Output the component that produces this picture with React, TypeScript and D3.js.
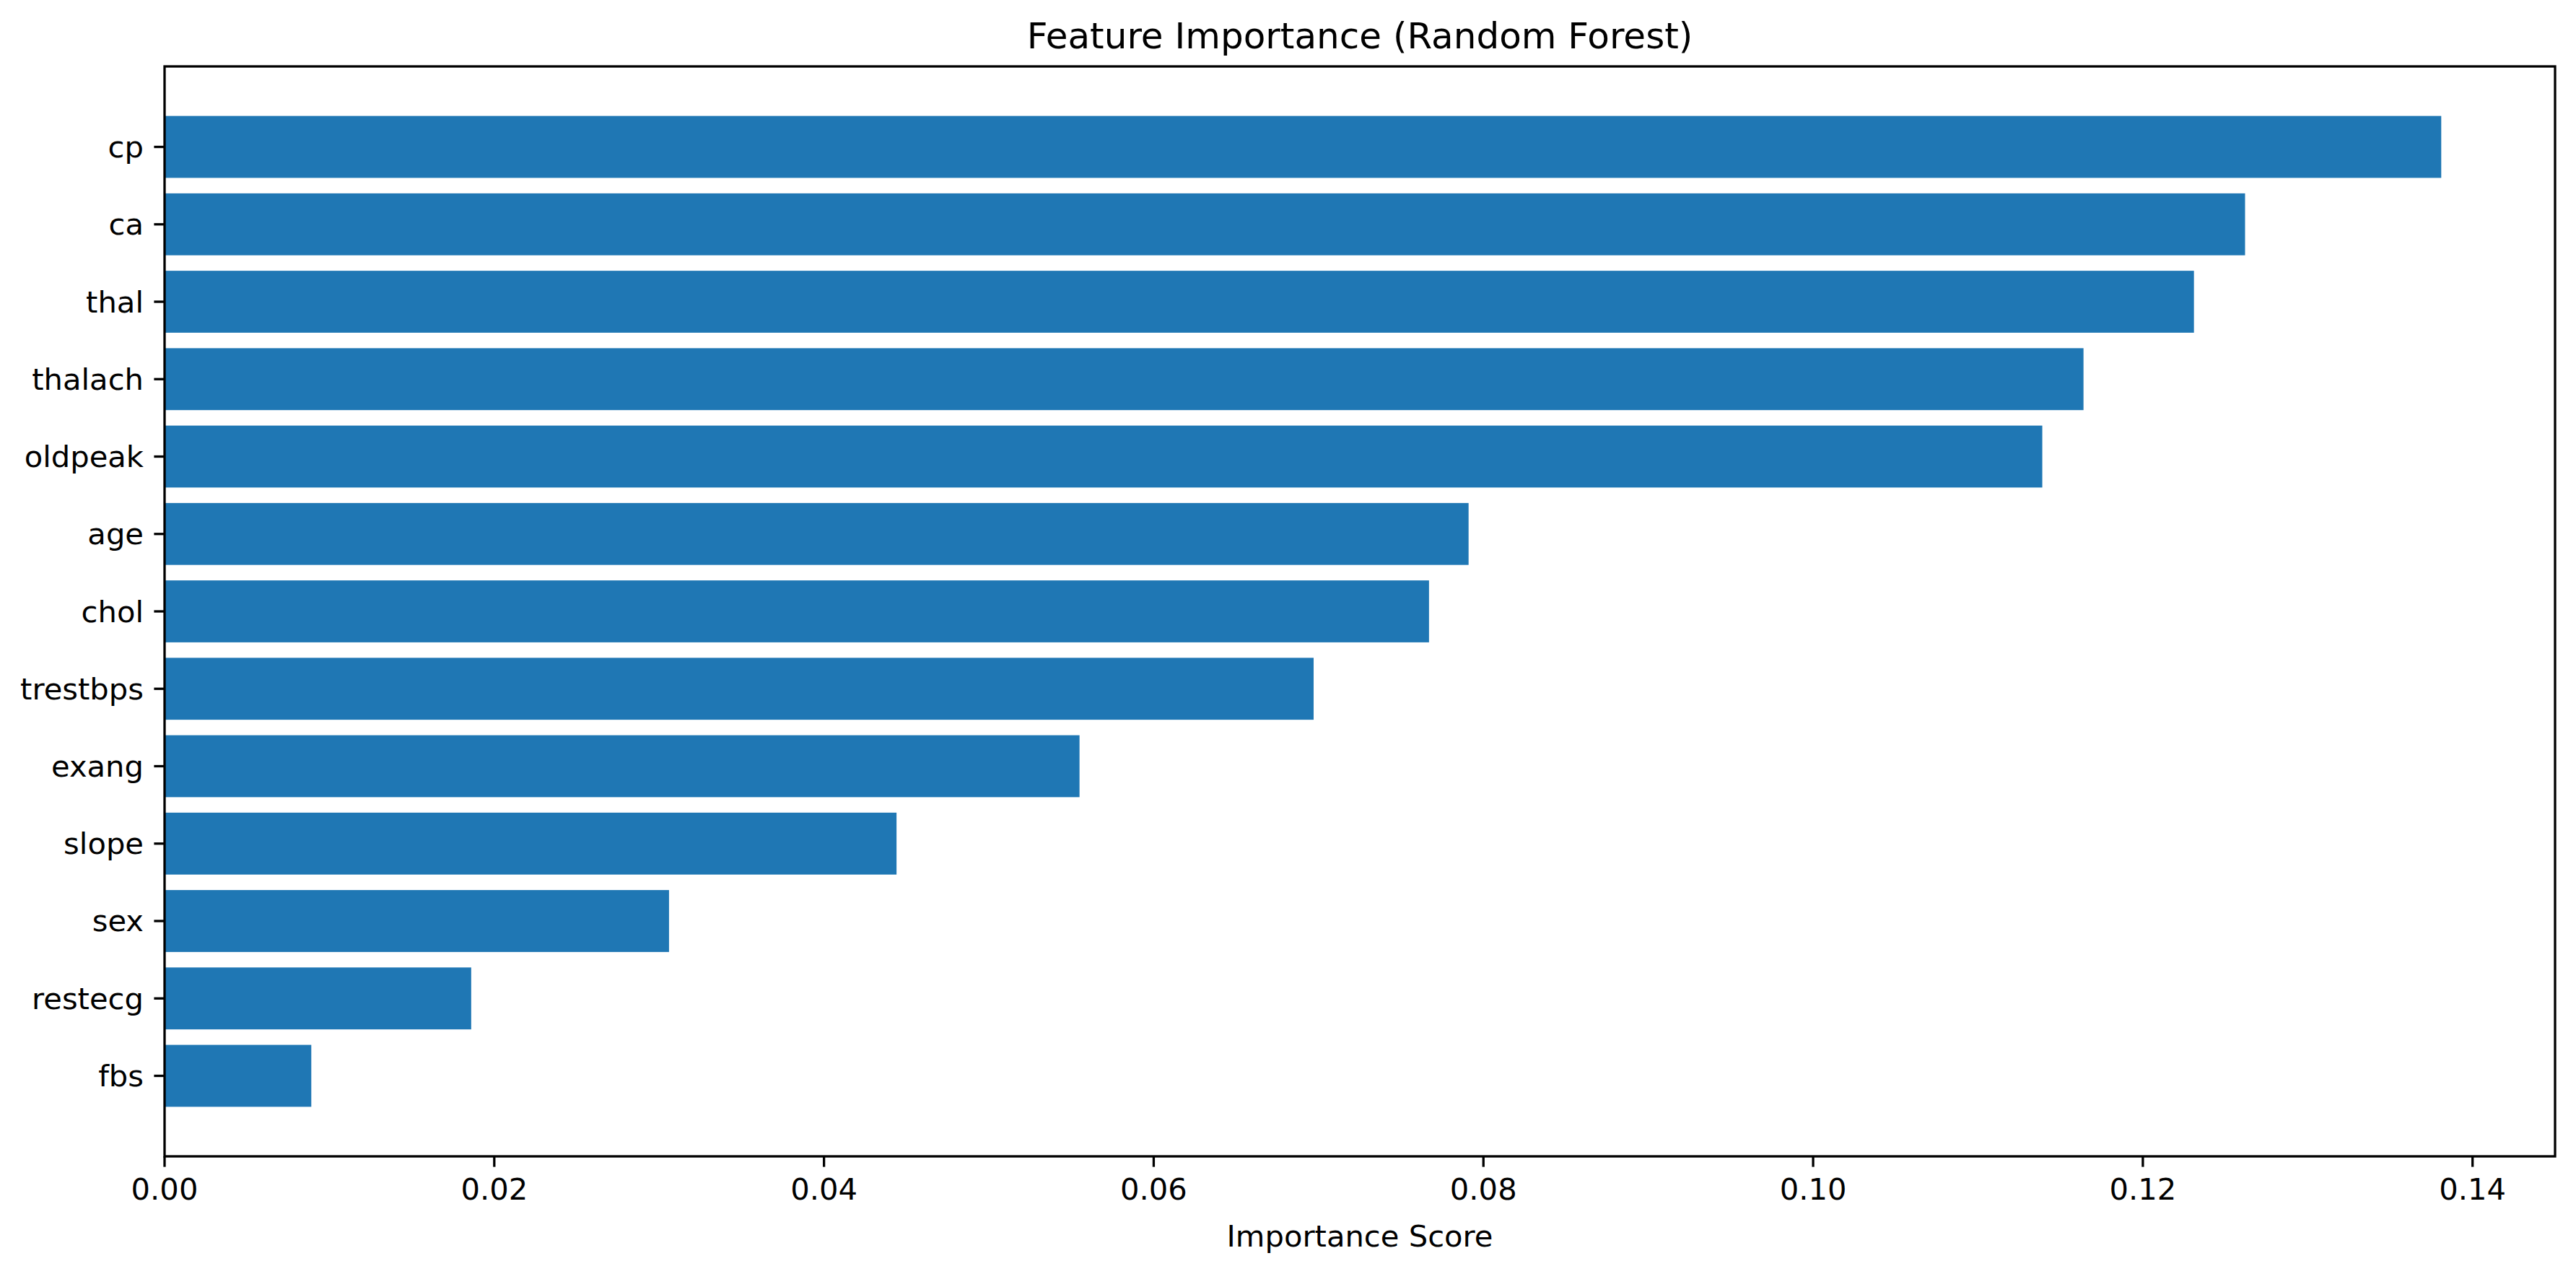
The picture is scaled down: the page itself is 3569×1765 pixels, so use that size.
import React from "react";
import * as d3 from "d3";

const features = ["cp","ca","thal","thalach","oldpeak","age","chol","trestbps","exang","slope","sex","restecg","fbs"];
const importance = [0.1381,0.1262,0.1231,0.1164,0.1139,0.0791,0.0767,0.0697,0.0555,0.0444,0.0306,0.0186,0.0089];
const xTicks = [0,0.02,0.04,0.06,0.08,0.1,0.12,0.14];

const W = 3569, H = 1765;
const L = 228, R = 3540, T = 92, B = 1602;
const FS = 41.7;

export default function App() {
  const x = d3.scaleLinear().domain([0, 0.1381 * 1.05]).range([L, R]);
  const n = features.length;
  // index 0 at top; matplotlib y from -0.4-0.64 to n-1+0.4+0.64
  const y = d3.scaleLinear().domain([-1.04, n - 1 + 1.04]).range([T, B]);
  const bh = Math.abs(y(0.8) - y(0));
  return (
    <svg width={W} height={H} style={{ display: "block", position: "absolute", left: 0, top: 0 }} fontFamily="DejaVu Sans">
      <rect width={W} height={H} fill="white" />
      {features.map((f, i) => (
        <rect key={f} x={x(0)} y={y(i) - bh / 2} width={x(importance[i]) - x(0)} height={bh} fill="#1f77b4" />
      ))}
      <rect x={L} y={T} width={R - L} height={B - T} fill="none" stroke="black" strokeWidth={3.3} />
      {xTicks.map(t => (
        <g key={t}>
          <line x1={x(t)} x2={x(t)} y1={B} y2={B + 14.6} stroke="black" strokeWidth={3.3} />
          <text x={x(t)} y={B + 29} fontSize={FS} textAnchor="middle" dominantBaseline="hanging">{t.toFixed(2)}</text>
        </g>
      ))}
      {features.map((f, i) => (
        <g key={f}>
          <line x1={L - 14.6} x2={L} y1={y(i)} y2={y(i)} stroke="black" strokeWidth={3.3} />
          <text x={L - 29} y={y(i)} fontSize={FS} textAnchor="end" dominantBaseline="central">{f}</text>
        </g>
      ))}
      <text x={(L + R) / 2} y={T - 25} fontSize={50} textAnchor="middle">Feature Importance (Random Forest)</text>
      <text x={(L + R) / 2} y={1727} fontSize={FS} textAnchor="middle">Importance Score</text>
    </svg>
  );
}
